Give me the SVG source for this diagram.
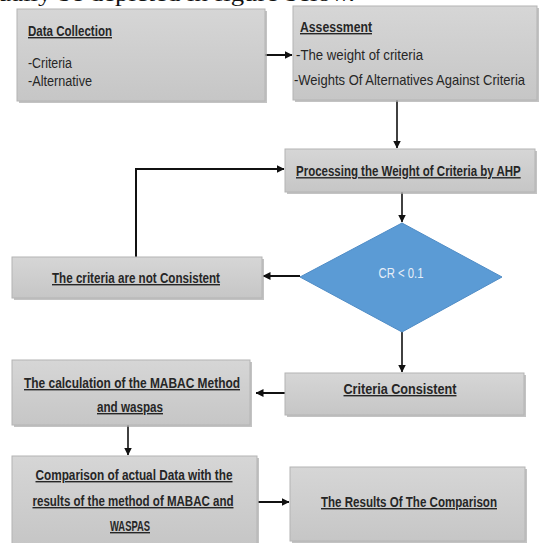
<svg xmlns="http://www.w3.org/2000/svg" width="539" height="543" viewBox="0 0 539 543">
<style>
  .box { fill: url(#gbox); stroke: #b4b4b4; stroke-width: 1; }
  .shadow { fill: #a9a9a9; opacity: 0.7; }
  .t { font-family: "Liberation Sans", Arial, sans-serif; font-size: 14px; fill: #262626; }
  .b { font-weight: bold; text-decoration: underline; }
  .c { text-anchor: middle; }
  .conn { fill: none; stroke: #111; stroke-width: 2; marker-end: url(#arr); }
  .thin { stroke-width: 1.6; }
  .top { font-family: "Liberation Serif", "Times New Roman", serif; font-size: 22px; fill: #111; }
</style>
<defs>
  <linearGradient id="gbox" x1="0" y1="0" x2="0" y2="1">
    <stop offset="0" stop-color="#d6d6d6"/>
    <stop offset="1" stop-color="#c6c6c6"/>
  </linearGradient>
  <marker id="arr" markerUnits="userSpaceOnUse" markerWidth="8" markerHeight="8" refX="7.5" refY="4" orient="auto">
    <path d="M0,0 L8,4 L0,8 z" fill="#111"/>
  </marker>
</defs>
<rect width="539" height="543" fill="#ffffff"/>

<text class="top" x="-2" y="1" textLength="357" lengthAdjust="spacingAndGlyphs">ually be depicted in figure below.</text>

<g id="connectors">
  <path class="conn" d="M265,55 H292"/>
  <path class="conn thin" d="M397,100 V148"/>
  <path class="conn thin" d="M402,192 V222"/>
  <path class="conn" d="M300,276 H263"/>
  <path class="conn" d="M136,257 V169 H284"/>
  <path class="conn thin" d="M402,332 V372"/>
  <path class="conn" d="M285,393 H256"/>
  <path class="conn thin" d="M128,425 V455"/>
  <path class="conn" d="M258,502 H289"/>
</g>

<g id="data-collection">
  <rect class="shadow" x="19" y="11" width="248" height="92"/>
  <rect class="box" x="17" y="9" width="248" height="92"/>
  <text class="t b" x="28" y="36" textLength="84" lengthAdjust="spacingAndGlyphs">Data Collection</text>
  <text class="t" x="28" y="68" textLength="44" lengthAdjust="spacingAndGlyphs">-Criteria</text>
  <text class="t" x="28" y="86" textLength="64" lengthAdjust="spacingAndGlyphs">-Alternative</text>
</g>

<g id="assessment">
  <rect class="shadow" x="295" y="8" width="244" height="94"/>
  <rect class="box" x="293" y="6" width="244" height="94"/>
  <text class="t b" x="300" y="32" textLength="72" lengthAdjust="spacingAndGlyphs">Assessment</text>
  <text class="t" x="296" y="60" textLength="127" lengthAdjust="spacingAndGlyphs">-The weight of criteria</text>
  <text class="t" transform="translate(294,85) scale(0.924,1)" x="0" y="0" textLength="250" lengthAdjust="spacingAndGlyphs">-Weights Of Alternatives Against Criteria</text>
</g>

<g id="processing">
  <rect class="shadow" x="287" y="151" width="250" height="43"/>
  <rect class="box" x="285" y="149" width="250" height="43"/>
  <text class="t b" transform="translate(296,176) scale(0.82,1)" x="0" y="0" textLength="274" lengthAdjust="spacingAndGlyphs">Processing the Weight of Criteria by AHP</text>
</g>

<g id="decision">
  <polygon points="402,223 502,277 402,332 300,277" fill="#5b9bd5" stroke="#4f8cc6" stroke-width="1"/>
  <text class="t c" x="401" y="278" textLength="45" lengthAdjust="spacingAndGlyphs" style="fill:#e6eef8">CR &lt; 0.1</text>
</g>

<g id="not-consistent">
  <rect class="shadow" x="14" y="259" width="250" height="41"/>
  <rect class="box" x="12" y="257" width="250" height="41"/>
  <text class="t b c" x="136" y="283" textLength="168" lengthAdjust="spacingAndGlyphs">The criteria are not Consistent</text>
</g>

<g id="consistent">
  <rect class="shadow" x="287" y="375" width="239" height="42"/>
  <rect class="box" x="285" y="373" width="239" height="42"/>
  <text class="t b c" x="400" y="394" textLength="113" lengthAdjust="spacingAndGlyphs">Criteria Consistent</text>
</g>

<g id="calculation">
  <rect class="shadow" x="14" y="362" width="238" height="65"/>
  <rect class="box" x="12" y="360" width="238" height="65"/>
  <text class="t b c" x="132" y="388" textLength="216" lengthAdjust="spacingAndGlyphs">The calculation of the MABAC Method</text>
  <text class="t b c" x="130" y="412" textLength="66" lengthAdjust="spacingAndGlyphs">and waspas</text>
</g>

<g id="comparison">
  <rect class="shadow" x="14" y="458" width="245" height="87"/>
  <rect class="box" x="12" y="456" width="245" height="88"/>
  <text class="t b c" x="134" y="480" textLength="197" lengthAdjust="spacingAndGlyphs">Comparison of actual Data with the</text>
  <text class="t b c" x="133" y="506" textLength="201" lengthAdjust="spacingAndGlyphs">results of the method of MABAC and</text>
  <text class="t b c" x="130" y="531" textLength="40" lengthAdjust="spacingAndGlyphs">WASPAS</text>
</g>

<g id="results">
  <rect class="shadow" x="292" y="469" width="235" height="74"/>
  <rect class="box" x="290" y="467" width="235" height="74"/>
  <text class="t b c" x="409" y="507" textLength="176" lengthAdjust="spacingAndGlyphs">The Results Of The Comparison</text>
</g>
</svg>
